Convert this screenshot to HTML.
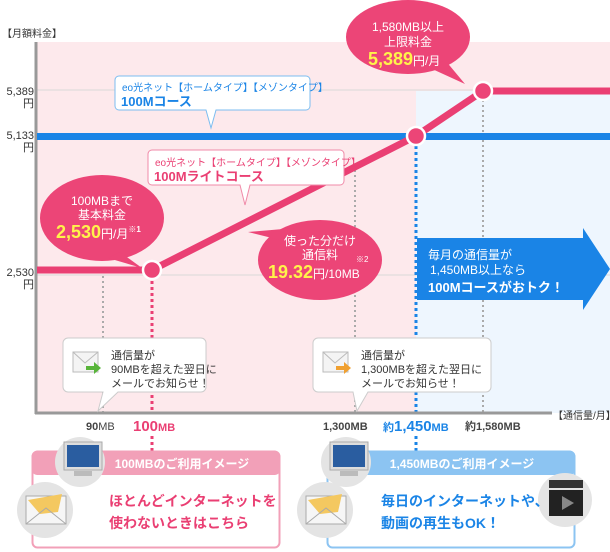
<!DOCTYPE html>
<html><head><meta charset="utf-8"><style>
html,body{margin:0;padding:0;background:#fff}
svg{display:block;font-family:"Liberation Sans","Noto Sans CJK JP",sans-serif}
</style></head><body>
<svg width="610" height="552" viewBox="0 0 610 552" xmlns="http://www.w3.org/2000/svg">
<rect x="36" y="42" width="574" height="371" fill="#fde9ec"/>
<rect x="416" y="91" width="194" height="322" fill="#eef6fe"/>
<line x1="36" y1="90" x2="610" y2="90" stroke="#d9d9d9"/>
<line x1="36" y1="275" x2="610" y2="275" stroke="#d9d9d9"/>
<line x1="103" y1="276" x2="103" y2="412" stroke="#aaa" stroke-width="2" stroke-dasharray="2,3"/>
<line x1="355" y1="170" x2="355" y2="412" stroke="#aaa" stroke-width="2" stroke-dasharray="2,3"/>
<line x1="483" y1="95" x2="483" y2="412" stroke="#aaa" stroke-width="2" stroke-dasharray="2,3"/>
<line x1="152" y1="275" x2="152" y2="412" stroke="#ea3f73" stroke-width="3" stroke-dasharray="3,3"/>
<line x1="152" y1="436" x2="152" y2="452" stroke="#ea3f73" stroke-width="3" stroke-dasharray="3,3"/>
<line x1="416" y1="140" x2="416" y2="412" stroke="#1a84e6" stroke-width="3" stroke-dasharray="3,3"/>
<line x1="416" y1="436" x2="416" y2="452" stroke="#1a84e6" stroke-width="3" stroke-dasharray="3,3"/>
<line x1="36" y1="42" x2="36" y2="414" stroke="#999" stroke-width="3"/>
<line x1="35" y1="413" x2="552" y2="413" stroke="#999" stroke-width="3"/>
<text x="553" y="419" font-size="10" fill="#333">【通信量/月】</text>
<text x="2" y="37" font-size="10" fill="#333">【月額料金】</text>
<g font-size="11" fill="#333" text-anchor="end">
<text x="34" y="95">5,389</text><text x="34" y="107">円</text>
<text x="34" y="139">5,133</text><text x="34" y="151">円</text>
<text x="34" y="276">2,530</text><text x="34" y="288">円</text>
</g>
<rect x="37" y="133" width="573" height="7" fill="#1a84e6"/>
<polyline points="37,270 152,270 416,136 483,91 610,91" fill="none" stroke="#ea3f73" stroke-width="7"/>
<path d="M119,76 H306 a4,4 0 0 1 4,4 V106 a4,4 0 0 1 -4,4 H216 L211,128 L206,110 H119 a4,4 0 0 1 -4,-4 V80 a4,4 0 0 1 4,-4Z" fill="#fff" stroke="#7cbdf0"/>
<text x="122" y="91" font-size="10" fill="#1a84e6">eo光ネット【ホームタイプ】【メゾンタイプ】</text>
<text x="121" y="106" font-size="13" font-weight="bold" fill="#1a84e6">100Mコース</text>
<path d="M152,150 H340 a4,4 0 0 1 4,4 V181 a4,4 0 0 1 -4,4 H250 L245,205 L240,185 H152 a4,4 0 0 1 -4,-4 V154 a4,4 0 0 1 4,-4Z" fill="#fff" stroke="#f08aa8"/>
<text x="155" y="166" font-size="10" fill="#ea3f73">eo光ネット【ホームタイプ】【メゾンタイプ】</text>
<text x="154" y="181" font-size="13" font-weight="bold" fill="#ea3f73">100Mライトコース</text>
<g fill="#ec4577">
<ellipse cx="102" cy="218" rx="62" ry="43"/><path d="M120,252 L142,268 L108,258Z"/>
<ellipse cx="408" cy="37" rx="62" ry="37"/><path d="M445,60 L465,84 L430,68Z"/>
<ellipse cx="320" cy="260" rx="62" ry="40"/><path d="M248,232 L295,228 L280,240Z"/>
</g>
<g fill="#fff" text-anchor="middle" font-size="12">
<text x="102" y="205">100MBまで</text><text x="102" y="219">基本料金</text>
<text x="408" y="31">1,580MB以上</text><text x="408" y="46">上限料金</text>
<text x="320" y="245">使った分だけ</text><text x="320" y="259">通信料</text>
</g>
<text x="56" y="238" font-size="18" font-weight="bold" fill="#fff34a">2,530<tspan font-size="12" font-weight="normal" fill="#fff">円/月</tspan><tspan font-size="8" fill="#fff" dy="-6">※1</tspan></text>
<text x="368" y="65" font-size="18" font-weight="bold" fill="#fff34a">5,389<tspan font-size="12" font-weight="normal" fill="#fff">円/月</tspan></text>
<text x="356" y="262" font-size="8" fill="#fff">※2</text>
<text x="268" y="278" font-size="18" font-weight="bold" fill="#fff34a">19.32<tspan font-size="12" font-weight="normal" fill="#fff">円/10MB</tspan></text>
<g fill="#ec4577" stroke="#fff" stroke-width="2.5">
<circle cx="152" cy="270" r="9"/><circle cx="416" cy="136" r="9"/><circle cx="483" cy="91" r="9"/>
</g>
<path d="M417,238 H583 V228 L610,269 L583,310 V300 H417Z" fill="#1a84e6"/>
<text x="428" y="259" font-size="12" fill="#fff">毎月の通信量が</text>
<text x="430" y="274" font-size="12" fill="#fff">1,450MB以上なら</text>
<text x="428" y="292" font-size="13" font-weight="bold" fill="#fff">100Mコースがおトク！</text>
<path d="M68,338 H201 a5,5 0 0 1 5,5 V387 a5,5 0 0 1 -5,5 H118 L98,411 L103,392 H68 a5,5 0 0 1 -5,-5 V343 a5,5 0 0 1 5,-5Z" fill="#fff" stroke="#ccc"/>
<path d="M318,338 H486 a5,5 0 0 1 5,5 V387 a5,5 0 0 1 -5,5 H368 L357,411 L353,392 H318 a5,5 0 0 1 -5,-5 V343 a5,5 0 0 1 5,-5Z" fill="#fff" stroke="#ccc"/>
<g>
<rect x="73" y="352" width="25" height="20" fill="#f4f4f4" stroke="#bbb"/><polyline points="73,352 85,363 98,352" fill="none" stroke="#bbb"/>
<path d="M86,366 h8 v-4 l7,6 -7,6 v-4 h-8z" fill="#58b43a"/>
<rect x="323" y="352" width="25" height="20" fill="#f4f4f4" stroke="#bbb"/><polyline points="323,352 335,363 348,352" fill="none" stroke="#bbb"/>
<path d="M336,366 h8 v-4 l7,6 -7,6 v-4 h-8z" fill="#f0a030"/>
</g>
<g font-size="11" fill="#333">
<text x="111" y="359">通信量が</text><text x="111" y="373">90MBを超えた翌日に</text><text x="111" y="387">メールでお知らせ！</text>
<text x="361" y="359">通信量が</text><text x="361" y="373">1,300MBを超えた翌日に</text><text x="361" y="387">メールでお知らせ！</text>
</g>
<text x="86" y="430" font-size="11" font-weight="bold" fill="#444">90<tspan font-weight="normal">MB</tspan></text>
<text x="133" y="431" font-size="15" font-weight="bold" fill="#ea3f73">100<tspan font-size="11">MB</tspan></text>
<text x="323" y="430" font-size="11" font-weight="bold" fill="#444">1,300MB</text>
<text x="383" y="431" font-size="11" font-weight="bold" fill="#1a84e6">約<tspan font-size="15">1,450</tspan>MB</text>
<text x="465" y="430" font-size="11" font-weight="bold" fill="#444">約1,580MB</text>
<rect x="32.5" y="451.5" width="247" height="96" rx="5" fill="#fff" stroke="#f2a0b8" stroke-width="2"/>
<rect x="32" y="451" width="248" height="24" rx="5" fill="#f2a0b8"/>
<text x="182" y="468" font-size="12" font-weight="bold" fill="#fff" text-anchor="middle">100MBのご利用イメージ</text>
<rect x="327.5" y="451.5" width="247" height="96" rx="5" fill="#fff" stroke="#8cc4f2" stroke-width="2"/>
<rect x="327" y="451" width="248" height="24" rx="5" fill="#8cc4f2"/>
<text x="462" y="468" font-size="12" font-weight="bold" fill="#fff" text-anchor="middle">1,450MBのご利用イメージ</text>
<g>
<circle cx="80" cy="462" r="25" fill="#e4e4e4"/>
<rect x="64" y="442" width="38" height="28" fill="#ddd" stroke="#aaa"/><rect x="67" y="445" width="32" height="22" fill="#2a5da0"/>
<rect x="74" y="471" width="18" height="5" fill="#bbb"/>
<circle cx="45" cy="510" r="28" fill="#e4e4e4"/>
<rect x="26" y="496" width="40" height="28" fill="#f6f6f6" stroke="#aaa"/><path d="M28,500 L62,494 L58,512 L40,514Z" fill="#f4c860"/><polyline points="26,524 46,508 66,524" fill="none" stroke="#aaa"/>
<circle cx="346" cy="462" r="25" fill="#e4e4e4"/>
<rect x="330" y="442" width="38" height="28" fill="#ddd" stroke="#aaa"/><rect x="333" y="445" width="32" height="22" fill="#2a5da0"/>
<rect x="340" y="471" width="18" height="5" fill="#bbb"/>
<circle cx="325" cy="510" r="28" fill="#e4e4e4"/>
<rect x="306" y="496" width="40" height="28" fill="#f6f6f6" stroke="#aaa"/><path d="M308,500 L342,494 L338,512 L320,514Z" fill="#f4c860"/><polyline points="306,524 326,508 346,524" fill="none" stroke="#aaa"/>
<circle cx="565" cy="500" r="27" fill="#e4e4e4"/>
<rect x="549" y="490" width="34" height="26" fill="#222"/><rect x="549" y="480" width="34" height="8" fill="#333"/>
<path d="M562,496 L574,503 L562,510Z" fill="#888"/>
</g>
<text x="109" y="506" font-size="14" font-weight="bold" fill="#ea3f73">ほとんどインターネットを</text>
<text x="109" y="528" font-size="14" font-weight="bold" fill="#ea3f73">使わないときはこちら</text>
<text x="381" y="506" font-size="14" font-weight="bold" fill="#1a84e6">毎日のインターネットや、</text>
<text x="381" y="528" font-size="14" font-weight="bold" fill="#1a84e6">動画の再生もOK！</text>
</svg>
</body></html>
